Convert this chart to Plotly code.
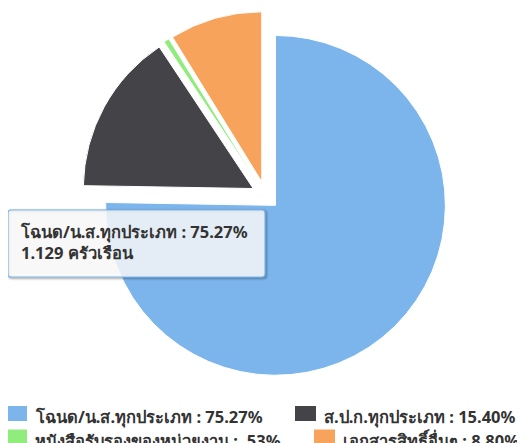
import plotly.graph_objects as go

labels = ["โฉนด/น.ส.ทุกประเภท", "ส.ป.ก.ทุกประเภท", "หนังสือรับรองของหน่วยงาน", "เอกสารสิทธิ์อื่นๆ"]
pct_text = ["75.27%", "15.40%", ".53%", "8.80%"]
values = [75.27, 15.40, 0.53, 8.80]
colors = ["#7cb5ec", "#434348", "#90ed7d", "#f7a35c"]
tooltip_label = "โฉนด/น.ส.ทุกประเภท : 75.27%"
tooltip_count = "1.129 ครัวเรือน"

W, H = 525, 443
OFF = 8  # page body margin
legend_labels = [f"{l} : {p}" for l, p in zip(labels, pct_text)]

cx, cy, half = 257.6, 187.3, 184.0

fig = go.Figure(go.Pie(
    labels=legend_labels,
    values=values,
    marker=dict(colors=colors, line=dict(color="white", width=1)),
    sort=False,
    direction="clockwise",
    rotation=0,
    pull=[0.083] * 4,
    textinfo="none",
    hoverinfo="skip",
    showlegend=False,
    domain=dict(x=[(cx - half) / W, (cx + half) / W],
                y=[1 - (cy + half) / H, 1 - (cy - half) / H]),
))

font_fam = "Noto Sans, DejaVu Sans, sans-serif"
FS = 16.5

def px(x):
    return (x - OFF) / W

def py(y):
    return 1 - (y - OFF) / H

def rrect(x0, y0, x1, y1, r):
    return (f"M{px(x0 + r)},{py(y0)} L{px(x1 - r)},{py(y0)} Q{px(x1)},{py(y0)} {px(x1)},{py(y0 + r)} "
            f"L{px(x1)},{py(y1 - r)} Q{px(x1)},{py(y1)} {px(x1 - r)},{py(y1)} "
            f"L{px(x0 + r)},{py(y1)} Q{px(x0)},{py(y1)} {px(x0)},{py(y1 - r)} "
            f"L{px(x0)},{py(y0 + r)} Q{px(x0)},{py(y0)} {px(x0 + r)},{py(y0)} Z")

# tooltip shadow + box
bx0, by0, bx1, by1 = 8, 210, 265, 277
for w, a in [(5, 0.05), (3, 0.1), (1, 0.15)]:
    fig.add_shape(type="path", xref="paper", yref="paper", path=rrect(bx0 + 1, by0 + 1, bx1 + 1, by1 + 1, 3),
                  line=dict(color=f"rgba(0,0,0,{a})", width=w), fillcolor="rgba(0,0,0,0)")
fig.add_shape(type="path", xref="paper", yref="paper", path=rrect(bx0, by0, bx1, by1, 3),
              fillcolor="rgba(247,247,247,0.85)", line=dict(color="#7cb5ec", width=1.2))
fig.add_annotation(xref="paper", yref="paper", x=px(18), y=py(242), xanchor="left", yanchor="middle",
                   text=f"{tooltip_label}<br>{tooltip_count}", showarrow=False, align="left",
                   font=dict(size=FS, color="#333333", family=font_fam, weight="bold"))

# legend (two columns, Highcharts-style layout)
sym_x = [6, 295, 6, 314]
sym_yc = [413.5, 413.5, 437, 437]
txt_yc = [416, 416, 440, 440]
for i, (lab, col) in enumerate(zip(legend_labels, colors)):
    x0 = sym_x[i]
    fig.add_shape(type="rect", xref="paper", yref="paper",
                  x0=px(x0), x1=px(x0 + 21), y0=py(sym_yc[i] - 7.5), y1=py(sym_yc[i] + 7.5),
                  fillcolor=col, line=dict(width=0))
    fig.add_annotation(xref="paper", yref="paper", x=px(x0 + 27), y=py(txt_yc[i]),
                       xanchor="left", yanchor="middle", showarrow=False,
                       text=lab, font=dict(size=FS, color="#333333", family=font_fam, weight="bold"))

fig.update_layout(
    width=W, height=H,
    margin=dict(l=0, r=0, t=0, b=0, autoexpand=False),
    paper_bgcolor="white",
    font=dict(family=font_fam, color="#333333"),
    showlegend=False,
)

fig.write_html("out.html")
